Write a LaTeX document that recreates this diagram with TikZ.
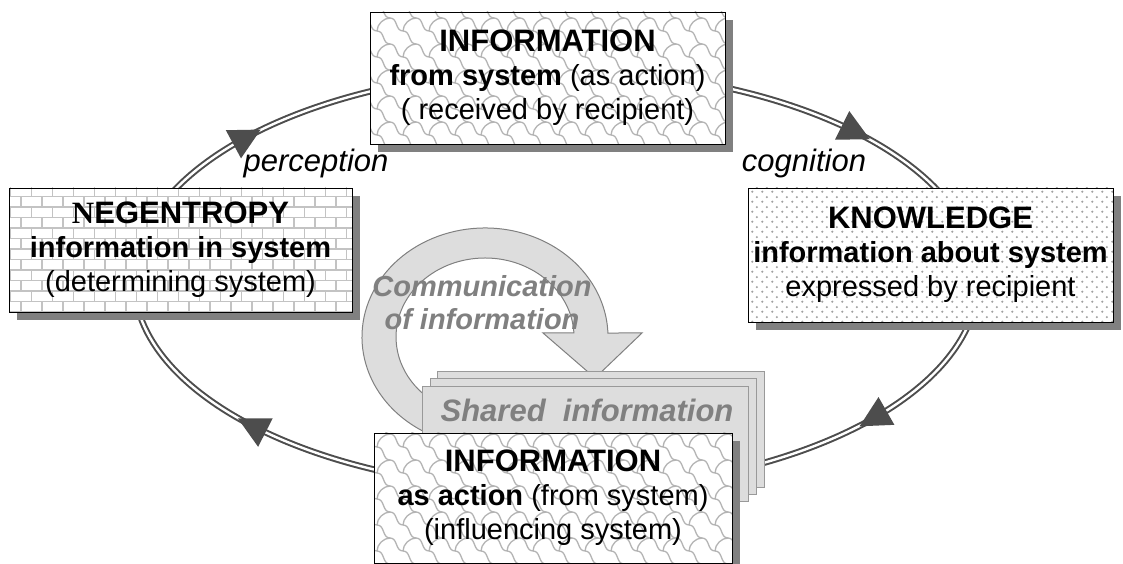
\documentclass[tikz,border=0pt]{standalone}
\usepackage{fontspec}
\setmainfont{Liberation Sans}
\newfontfamily\nserif{Liberation Serif}
\usetikzlibrary{calc,patterns,shadows,decorations.markings}

\definecolor{cycgray}{HTML}{4D4D4D}
\definecolor{shadegray}{HTML}{808080}
\definecolor{patgray}{HTML}{B4B4B4}
\definecolor{dotgray}{HTML}{A0A0A0}
\definecolor{sheetgray}{HTML}{DDDDDD}
\definecolor{edgegray}{HTML}{999999}
\definecolor{labelgray}{HTML}{808080}

% fill patterns for the four boxes
\pgfdeclarepatternformonly{shingles}{\pgfqpoint{-1pt}{-1pt}}{\pgfqpoint{27pt}{27pt}}{\pgfqpoint{26pt}{26pt}}%
{
  \pgfsetlinewidth{1.3pt}
  \pgfpathmoveto{\pgfqpoint{0pt}{26pt}}
  \pgfpathcurveto{\pgfqpoint{8pt}{26pt}}{\pgfqpoint{5pt}{13pt}}{\pgfqpoint{13pt}{13pt}}
  \pgfpathcurveto{\pgfqpoint{21pt}{13pt}}{\pgfqpoint{18pt}{0pt}}{\pgfqpoint{26pt}{0pt}}
  \pgfpathmoveto{\pgfqpoint{13pt}{13pt}}
  \pgfpathcurveto{\pgfqpoint{13pt}{20pt}}{\pgfqpoint{20pt}{26pt}}{\pgfqpoint{26pt}{26pt}}
  \pgfusepath{stroke}
}
\pgfdeclarepatternformonly{brickwall}{\pgfqpoint{-1pt}{-1pt}}{\pgfqpoint{22pt}{22pt}}{\pgfqpoint{21pt}{21pt}}%
{
  \pgfsetlinewidth{1.2pt}
  \pgfpathmoveto{\pgfqpoint{0pt}{0pt}}\pgfpathlineto{\pgfqpoint{21pt}{0pt}}
  \pgfpathmoveto{\pgfqpoint{0pt}{10.5pt}}\pgfpathlineto{\pgfqpoint{21pt}{10.5pt}}
  \pgfpathmoveto{\pgfqpoint{0pt}{0pt}}\pgfpathlineto{\pgfqpoint{0pt}{10.5pt}}
  \pgfpathmoveto{\pgfqpoint{10.5pt}{10.5pt}}\pgfpathlineto{\pgfqpoint{10.5pt}{21pt}}
  \pgfusepath{stroke}
}
\pgfdeclarepatternformonly{dotfield}{\pgfqpoint{0pt}{0pt}}{\pgfqpoint{10pt}{10pt}}{\pgfqpoint{10pt}{10pt}}%
{
  \pgfpathcircle{\pgfqpoint{2.5pt}{2.5pt}}{1.3pt}
  \pgfpathcircle{\pgfqpoint{7.5pt}{7.5pt}}{1.3pt}
  \pgfusepath{fill}
}

\newcommand{\boxhead}[1]{{\fontsize{31}{36}\selectfont\bfseries #1}}

\begin{document}
\begin{tikzpicture}[
  x=1pt,
  y=1pt,
  box/.style={
      draw,
      line width=0.8pt,
      align=center,
      inner sep=2pt,
      font=\fontsize{29}{34}\selectfont,
      drop shadow={shadow xshift=8pt, shadow yshift=-8pt,
                   fill=shadegray, opacity=1},
      preaction={fill=white}
  },
  shingled/.style={
      box,
      pattern=shingles,
      pattern color=patgray
  },
  bricked/.style={
      box,
      pattern=brickwall,
      pattern color=patgray!80
  },
  dotted box/.style={
      box,
      pattern=dotfield,
      pattern color=dotgray
  },
  loopline/.style={
      draw=cycgray,
      line width=2pt,
      double=white,
      double distance=2.4pt
  },
  sheet/.style={
      draw=edgegray,
      fill=sheetgray,
      line width=1pt
  },
  ring/.style={
      draw=shadegray,
      fill=sheetgray,
      line width=1pt
  },
  arclabel/.style={
      font=\fontsize{31}{36}\selectfont\itshape
  },
  graylabel/.style={
      text=labelgray,
      align=center,
      font=\fontsize{29}{33}\selectfont\bfseries\itshape
  }
]

\useasboundingbox (0,0) rectangle (1123,564);

% ==================================================
% Cycle
% ==================================================

\coordinate (cyc) at (556,284);

\draw[loopline]
      (cyc) ellipse [x radius=422pt, y radius=210pt];

\path[decorate,
      decoration={markings,
        mark=at position 0.0994 with {\fill[cycgray] (-17,0) -- (14,16) -- (14,-16) -- cycle;},
        mark=at position 0.407 with {\fill[cycgray] (-17,0) -- (14,16) -- (14,-16) -- cycle;},
        mark=at position 0.597 with {\fill[cycgray] (-17,0) -- (14,16) -- (14,-16) -- cycle;},
        mark=at position 0.9115 with {\fill[cycgray] (-17,0) -- (14,16) -- (14,-16) -- cycle;}}]
      (cyc) ellipse [x radius=422pt, y radius=210pt];

% ==================================================
% Communication arrow
% ==================================================

\coordinate (loopc) at (485,227);

\draw[ring]
      ($(loopc)+(245:123 and 109)$)
      arc[start angle=245, end angle=2.1, x radius=123pt, y radius=109pt]
      -- (642,231) -- (595,186) -- (543,231) -- (573.9,231)
      arc[start angle=2.9, end angle=245, x radius=89pt, y radius=79pt]
      -- cycle;

\node[graylabel] (comm) at (482,261)
      {Communication\\ of information};

% ==================================================
% Shared information
% ==================================================

\draw[sheet] (437,76) rectangle (764,192);
\draw[sheet] (430,69) rectangle (756,185);
\draw[sheet] (422,62) rectangle (748,177);

\node[graylabel,
      font=\fontsize{31}{36}\selectfont\bfseries\itshape]
      (shared) at (587,154)
      {Shared\ \ information};

% ==================================================
% Boxes
% ==================================================

\node[shingled,
      minimum width=355pt,
      minimum height=132pt]
      (fromsys) at (547.5,486)
      {\boxhead{INFORMATION}\\
       \textbf{from system} (as action)\\
       ( received by recipient)};

\node[bricked,
      minimum width=343pt,
      minimum height=124pt]
      (negent) at (180.5,314)
      {\boxhead{{\nserif N}EGENTROPY}\\
       \textbf{information in system}\\
       (determining system)};

\node[dotted box,
      minimum width=365pt,
      minimum height=134pt]
      (know) at (930.5,309)
      {\boxhead{KNOWLEDGE}\\
       \textbf{information about system}\\
       expressed by recipient};

\node[shingled,
      minimum width=358pt,
      minimum height=130pt]
      (asact) at (553,66)
      {\boxhead{INFORMATION}\\
       \textbf{as action} (from system)\\
       (influencing system)};

% ==================================================
% Labels
% ==================================================

\node[arclabel] (perc) at (316,401) {perception};
\node[arclabel] (cogn) at (804,401) {cognition};

\end{tikzpicture}
\end{document}
